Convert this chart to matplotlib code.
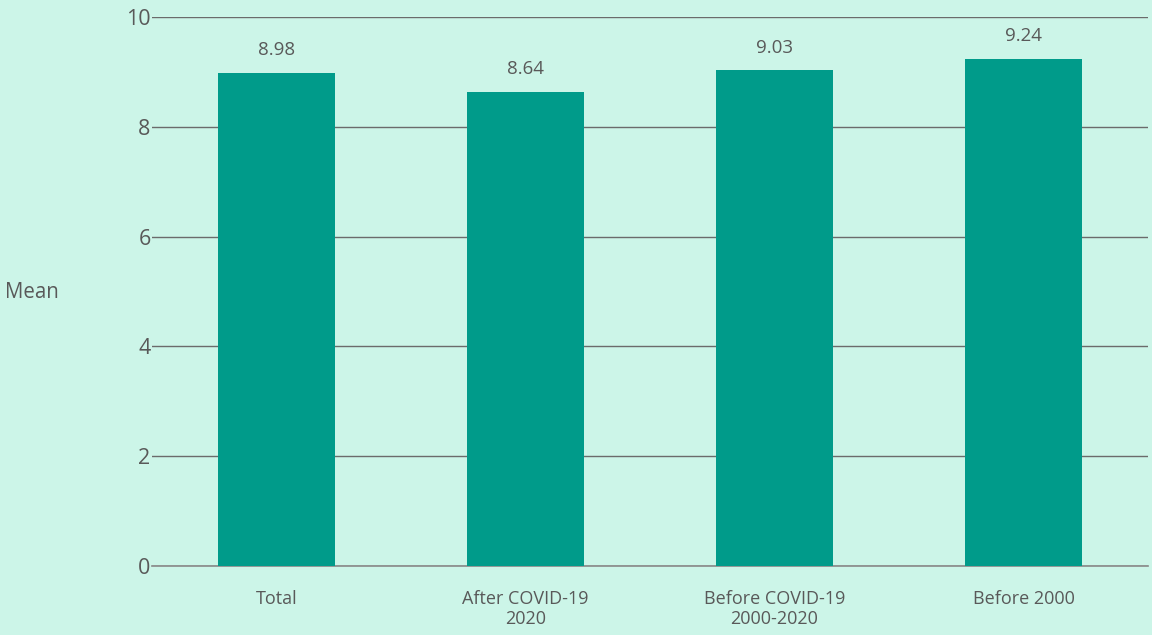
import matplotlib
matplotlib.use("Agg")
import matplotlib.pyplot as plt

categories = ["Total", "After COVID-19\n2020", "Before COVID-19\n2000-2020", "Before 2000"]
means = [8.98, 8.64, 9.03, 9.24]
labels = ["8.98", "8.64", "9.03", "9.24"]

bg = "#ccf5e8"
bar_color = "#009b8a"
text_color = "#595959"

plt.rcParams['font.family'] = ['Open Sans', 'DejaVu Sans']

fig = plt.figure(figsize=(11.52, 6.35), dpi=100, facecolor=bg)
ax = fig.add_axes([152 / 1152, 0.1087, 996 / 1152, 0.8645])
ax.set_facecolor(bg)

x = range(len(categories))
bars = ax.bar(x, means, width=0.467, color=bar_color, zorder=3)

for b, lab in zip(bars, labels):
    ax.text(b.get_x() + b.get_width() / 2, b.get_height() + 0.25, lab,
            ha="center", va="bottom", fontsize=13.5, color=text_color)

ax.set_xlim(-0.5, 3.5)
ax.set_ylim(0, 10)
ax.set_yticks([0, 2, 4, 6, 8, 10])
ax.set_xticks(list(x))
ax.set_xticklabels(categories, fontsize=13, color=text_color, linespacing=1.15)
ax.tick_params(axis="y", labelsize=15.5, colors=text_color, length=0, pad=1)
ax.tick_params(axis="x", length=0, pad=17)

ax.grid(axis="y", color="#6b6b6b", linewidth=1, zorder=0)
for s in ["top", "right", "left"]:
    ax.spines[s].set_visible(False)
ax.spines["bottom"].set_color("#888888")
ax.spines["bottom"].set_linewidth(1.2)

fig.text(0.004, 0.54, "Mean", fontsize=14.8, color=text_color, ha="left", va="center")

fig.savefig("out.png", dpi=100, facecolor=bg)
